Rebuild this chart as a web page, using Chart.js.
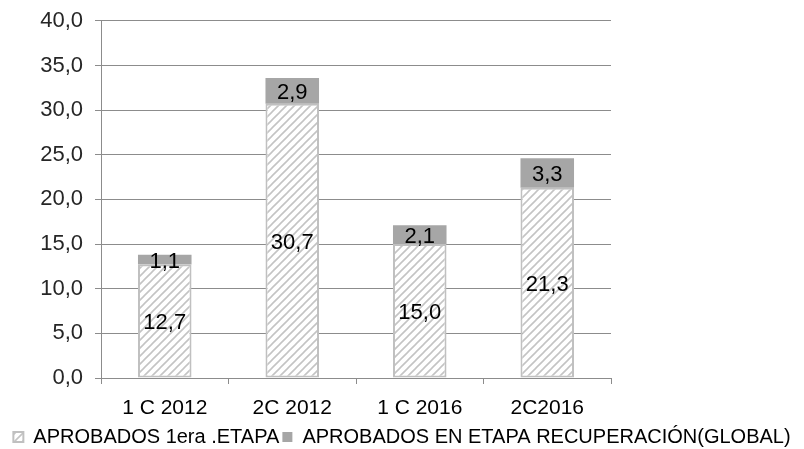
<!DOCTYPE html>
<html>
<head>
<meta charset="utf-8">
<script src="https://cdn.jsdelivr.net/npm/chart.js@4.4.0/dist/chart.umd.min.js"></script>
<style>
  html, body { margin: 0; padding: 0; background: #ffffff; }
  #wrap { width: 804px; height: 449px; }
</style>
</head>
<body>
<div id="wrap"><canvas id="chart" width="804" height="449"></canvas></div>
<script>
const categories = ["1 C 2012", "2C 2012", "1 C 2016", "2C2016"];
const primeraEtapa = [12.7, 30.7, 15.0, 21.3];
const recuperacion = [1.1, 2.9, 2.1, 3.3];
const seriesNames = ["APROBADOS 1era .ETAPA", "APROBADOS EN ETAPA RECUPERACIÓN(GLOBAL)"];
const yTicks = [0, 5, 10, 15, 20, 25, 30, 35, 40];

const FONT = "'Liberation Sans', Arial, sans-serif";

//hatch pattern for the first series
const makeHatch = () => {
  const c = document.createElement("canvas");
  c.width = 8;
  c.height = 8;
  const g = c.getContext("2d");
  g.fillStyle = "#ffffff";
  g.fillRect(0, 0, 8, 8);
  g.strokeStyle = "#c4c4c4";
  g.lineWidth = 1.6;
  g.beginPath();
  g.moveTo(-1, 9); g.lineTo(9, -1);
  g.moveTo(-1, 1); g.lineTo(1, -1);
  g.moveTo(7, 9); g.lineTo(9, 7);
  g.stroke();
  return g.createPattern(c, "repeat");
};
const hatch = makeHatch();

const fmt = (v) => v.toFixed(1).replace(".", ",");

//labels inside the bar segments
const valueLabels = {
  id: "valueLabels",
  afterDatasetsDraw(chart) {
    const ctx = chart.ctx;
    ctx.save();
    ctx.font = "22px " + FONT;
    ctx.fillStyle = "#000000";
    ctx.textAlign = "center";
    ctx.textBaseline = "middle";
    chart.data.datasets.forEach((ds, i) => {
      chart.getDatasetMeta(i).data.forEach((el, j) => {
        ctx.fillText(fmt(ds.data[j]), el.x, (el.y + el.base) / 2 + 2);
      });
    });
    ctx.restore();
  },
};

new Chart(document.getElementById("chart"), {
  type: "bar",
  plugins: [valueLabels],
  data: {
    labels: categories,
    datasets: [
      {
        label: seriesNames[0],
        data: primeraEtapa,
        backgroundColor: hatch,
        borderColor: "#c0c0c0",
        borderWidth: 2,
        borderSkipped: false,
      },
      {
        label: seriesNames[1],
        data: recuperacion,
        backgroundColor: "#a6a6a6",
        borderWidth: 0,
      },
    ],
  },
  options: {
    responsive: false,
    animation: false,
    layout: { padding: { left: 0, right: 0, top: 0, bottom: -8 } },
    datasets: { bar: { categoryPercentage: 1, barPercentage: 0.42 } },
    plugins: {
      tooltip: { enabled: false },
      legend: {
        position: "bottom",
        labels: {
          font: { family: FONT, size: 20, lineHeight: 1 },
          color: "#000000",
          boxWidth: 10,
          boxHeight: 10,
          padding: 3,
        },
      },
    },
    scales: {
      x: {
        stacked: true,
        afterFit: (s) => { s.height = 46; },
        grid: { drawOnChartArea: false, tickLength: 6, color: "#8c8c8c", offset: true },
        border: { color: "#8c8c8c" },
        ticks: { font: { family: FONT, size: 21, lineHeight: 1 }, color: "#000000", padding: 14 },
      },
      y: {
        stacked: true,
        min: 0,
        max: 40,
        afterFit: (s) => { s.width = 101; },
        afterBuildTicks: (s) => { s.ticks = yTicks.map((v) => ({ value: v })); },
        grid: { color: "#8c8c8c", tickLength: 6 },
        border: { color: "#8c8c8c" },
        ticks: {
          font: { family: FONT, size: 22, lineHeight: 0.8 },
          color: "#262626",
          padding: 12,
          callback: (v) => fmt(v),
        },
      },
      //empty space on the right of the plot
      spacer: {
        position: "right",
        afterFit: (s) => { s.width = 193; },
        grid: { display: false },
        border: { display: false },
        ticks: { display: false },
      },
    },
  },
});
</script>
</body>
</html>
